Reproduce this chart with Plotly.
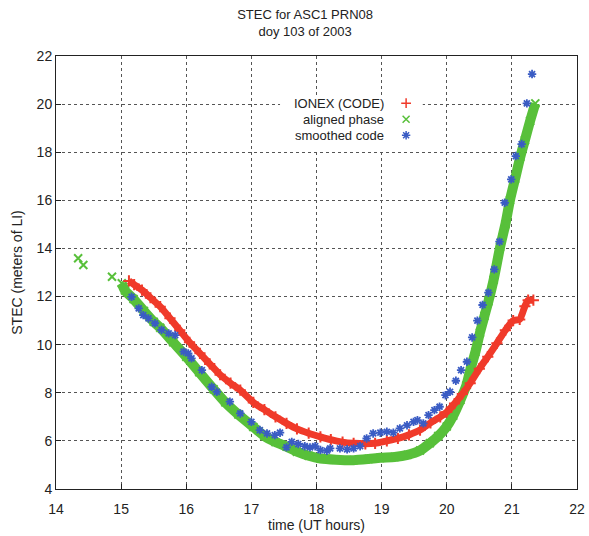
import plotly.graph_objects as go

# --- data: time (UT hours) and slant TEC (meters of L1) ---
ionex_t = [15.12, 15.20, 15.32, 15.45, 15.60, 15.75, 15.90, 16.05, 16.21, 16.36,
           16.52, 16.68, 16.83, 17.03, 17.20, 17.37, 17.54, 17.70, 17.88, 18.06,
           18.22, 18.40, 18.57, 18.75, 18.90, 19.08, 19.25, 19.42, 19.59, 19.75,
           19.90, 20.00, 20.12, 20.24, 20.36, 20.50, 20.63, 20.77, 20.90, 21.02,
           21.12, 21.20, 21.25, 21.33]
ionex_v = [12.65, 12.50, 12.27, 11.95, 11.58, 11.10, 10.60, 10.10, 9.64, 9.20,
           8.75, 8.40, 8.11, 7.60, 7.30, 7.00, 6.73, 6.50, 6.32, 6.17,
           6.05, 5.95, 5.90, 5.88, 5.90, 6.00, 6.10, 6.25, 6.45, 6.75,
           7.00, 7.20, 7.55, 7.95, 8.40, 9.00, 9.50, 10.06, 10.60, 11.00,
           11.05, 11.60, 11.85, 11.85]

phase_t = [14.34, 14.42, 14.86, 15.01, 15.06, 15.19, 15.35, 15.50, 15.60, 15.80,
           16.00, 16.20, 16.42, 16.60, 16.80, 17.03, 17.20, 17.37, 17.54, 17.70,
           17.88, 18.06, 18.30, 18.57, 18.80, 18.98, 19.20, 19.40, 19.59, 19.74,
           19.87, 20.00, 20.10, 20.21, 20.30, 20.36, 20.44, 20.51, 20.58, 20.64,
           20.72, 20.82, 20.90, 20.97, 21.05, 21.13, 21.20, 21.28, 21.36]
phase_v = [13.59, 13.31, 12.82, 12.55, 12.25, 11.90, 11.40, 10.95, 10.70, 10.10,
           9.50, 8.85, 8.15, 7.60, 7.10, 6.58, 6.20, 5.95, 5.76, 5.55,
           5.38, 5.27, 5.22, 5.20, 5.25, 5.30, 5.33, 5.42, 5.60, 5.90,
           6.20, 6.60, 7.05, 7.70, 8.30, 8.94, 9.70, 10.50, 11.20, 11.80,
           12.70, 14.07, 15.00, 16.00, 16.90, 17.81, 18.50, 19.30, 20.03]

smooth_t = [15.16, 15.27, 15.34, 15.42, 15.52, 15.62, 15.73, 15.83, 15.96, 16.03,
            16.08, 16.24, 16.39, 16.47, 16.67, 16.83, 17.00, 17.13, 17.24, 17.36,
            17.44, 17.54, 17.62, 17.72, 17.82, 17.90, 17.98, 18.06, 18.16, 18.21,
            18.36, 18.47, 18.57, 18.67, 18.77, 18.87, 18.98, 19.08, 19.18, 19.28,
            19.39, 19.49, 19.55, 19.64, 19.72, 19.81, 19.89, 19.98, 20.05, 20.14,
            20.22, 20.31, 20.39, 20.47, 20.55, 20.64, 20.73, 20.81, 20.89, 20.99,
            21.06, 21.15, 21.23, 21.31]
smooth_v = [11.99, 11.51, 11.23, 11.09, 10.89, 10.61, 10.47, 10.40, 9.71, 9.64,
            9.43, 8.94, 8.25, 8.04, 7.63, 7.14, 6.79, 6.45, 6.31, 6.24,
            6.34, 5.73, 5.96, 5.87, 5.78, 5.73, 5.78, 5.62, 5.59, 5.69,
            5.69, 5.65, 5.69, 5.78, 6.10, 6.31, 6.34, 6.38, 6.34, 6.52,
            6.65, 6.79, 6.86, 6.73, 7.07, 7.28, 7.42, 7.90, 8.04, 8.50,
            8.94, 9.29, 10.30, 11.00, 11.65, 12.16, 13.13, 14.28, 15.90, 16.87,
            17.84, 18.34, 20.03, 21.25]

x_ticks = list(range(14, 23))
y_ticks = list(range(4, 23, 2))

series_names = ["IONEX (CODE)", "aligned phase", "smoothed code"]

# the phase/IONEX records are continuous from this epoch on
CONTINUOUS_FROM = 15.0

RED = "#f03a2a"
GREEN = "#58c03a"
BLUE = "#3a5cc4"
FONT = "Liberation Sans, Arial, sans-serif"
TXT = "#222"


def dense_part(t, v):
    pairs = [(a, b) for a, b in zip(t, v) if a >= CONTINUOUS_FROM]
    return [p[0] for p in pairs], [p[1] for p in pairs]


fig = go.Figure()

# dense series: a thick trail with crosses along it
for t, v, color, width, sym in [(phase_t, phase_v, GREEN, 10, "x-thin-open"),
                                (ionex_t, ionex_v, RED, 7, "cross-thin-open")]:
    bx, by = dense_part(t, v)
    fig.add_trace(go.Scatter(x=bx, y=by, mode="lines",
                             line=dict(color=color, width=width, shape="spline",
                                       smoothing=0.6),
                             hoverinfo="skip", showlegend=False))
    fig.add_trace(go.Scatter(x=t, y=v, mode="markers",
                             marker=dict(symbol=sym, size=8, color=color,
                                         line=dict(color=color, width=2)),
                             showlegend=False))

fig.add_trace(go.Scatter(x=smooth_t, y=smooth_v, mode="markers",
                         marker=dict(symbol="asterisk-open", size=7, color=BLUE,
                                     line=dict(color=BLUE, width=1.8)),
                         showlegend=False))

# key box in the gnuplot style: opaque panel, labels right-aligned,
# symbol to their right (drawn on a 0..1 overlay frame)
key_box_x = [0.43, 0.704, 0.704, 0.43, 0.43]
key_box_y = [0.783, 0.783, 0.91, 0.91, 0.783]
fig.add_trace(go.Scatter(x=key_box_x, y=key_box_y, xaxis="x2", yaxis="y2",
                         mode="lines", fill="toself", fillcolor="white",
                         line=dict(width=0, color="white"),
                         hoverinfo="skip", showlegend=False))

key_rows = [0.891, 0.854, 0.817]
key_text_x = 0.634
key_sym_x = 0.672
key_styles = [("cross-thin-open", RED), ("x-thin-open", GREEN), ("asterisk-open", BLUE)]
for (sym, color), ky in zip(key_styles, key_rows):
    fig.add_trace(go.Scatter(x=[key_sym_x], y=[ky], xaxis="x2", yaxis="y2",
                             mode="markers",
                             marker=dict(symbol=sym, size=7, color=color,
                                         line=dict(color=color, width=1.5)),
                             hoverinfo="skip", showlegend=False))

annotations = [dict(text=name, xref="paper", yref="paper", x=key_text_x, y=ky,
                    xanchor="right", yanchor="middle", showarrow=False,
                    font=dict(family=FONT, size=13, color=TXT))
               for name, ky in zip(series_names, key_rows)]

axis_common = dict(showline=True, linecolor=TXT, linewidth=1, mirror=True,
                   showgrid=True, gridcolor="#555", griddash="dot", gridwidth=1,
                   ticks="inside", ticklen=5, tickcolor=TXT, zeroline=False,
                   automargin=False,
                   tickfont=dict(family=FONT, size=14, color=TXT))

fig.update_layout(
    width=589, height=536, autosize=False,
    margin=dict(l=56, r=12, t=56, b=47),
    paper_bgcolor="white", plot_bgcolor="white",
    font=dict(family=FONT, size=14, color=TXT),
    title=dict(text="STEC for ASC1 PRN08<br>doy 103 of 2003",
               x=0.518, xanchor="center", xref="container",
               y=0.965, yanchor="top", yref="container",
               automargin=False,
               font=dict(family=FONT, size=13, color=TXT)),
    xaxis=dict(range=[14, 22], tickvals=x_ticks, **axis_common,
               ticklabelstandoff=7,
               title=dict(text="time (UT hours)", standoff=4,
                          font=dict(family=FONT, size=14, color=TXT))),
    yaxis=dict(range=[4, 22], tickvals=y_ticks, **axis_common,
               title=dict(text="STEC (meters of LI)", standoff=10,
                          font=dict(family=FONT, size=14, color=TXT))),
    xaxis2=dict(overlaying="x", range=[0, 1], visible=False, fixedrange=True),
    yaxis2=dict(overlaying="y", range=[0, 1], visible=False, fixedrange=True),
    annotations=annotations,
    showlegend=False,
)

fig.write_html("out.html")
